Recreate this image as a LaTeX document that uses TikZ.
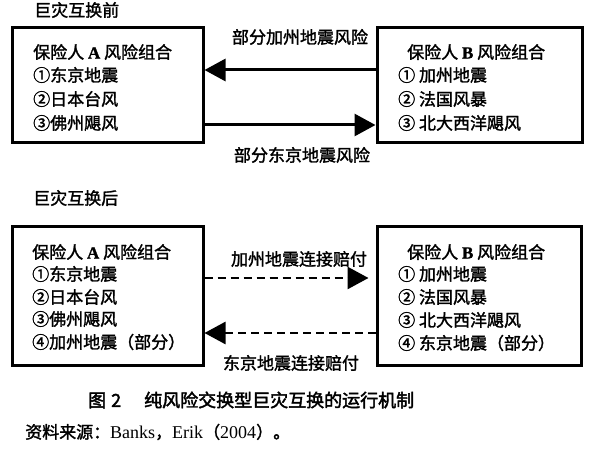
\documentclass[tikz,border=0pt]{standalone}
\usepackage{fontspec}
\newfontfamily\cjk[FakeBold=1.6]{Noto Sans CJK SC}
\newfontfamily\cjkh[FakeBold=2.2]{Noto Sans CJK SC}
\newfontfamily\lat[FakeBold=1.2]{Liberation Serif}
\newfontfamily\latr{Liberation Serif}
\usetikzlibrary{arrows.meta}
\begin{document}
\begin{tikzpicture}[x=1pt,y=-1pt,
  frame/.style={draw, line width=3pt, inner sep=0pt},
  txt/.style={anchor=west, inner sep=0pt, font=\cjk\fontsize{17}{20}\selectfont},
  lab/.style={anchor=center, inner sep=0pt, font=\cjk\fontsize{17}{20}\selectfont},
  solidarrow/.style={line width=3pt, -{Triangle[length=21pt,width=22pt]}},
  dasharrow/.style={line width=2.6pt, dash pattern=on 8pt off 5pt, -{Triangle[length=21pt,width=22pt]}}
]
\useasboundingbox (0,0) rectangle (592,449);
\fill[white] (0,0) rectangle (592,449);

% section titles
\node[txt] (t1) at (34,10) {巨灾互换前};
\node[txt] (t2) at (33,198) {巨灾互换后};

% boxes before
\node[frame, minimum width=191pt, minimum height=115pt] (A) at (107.5,85.5) {};
\node[frame, minimum width=205pt, minimum height=115pt] (B) at (479.5,85.5) {};

\node[txt] (a0) at (33,52) {保险人 {\lat\bfseries A} 风险组合};
\node[txt] (a1) at (33,75) {①东京地震};
\node[txt] (a2) at (33,99) {②日本台风};
\node[txt] (a3) at (33,123) {③佛州飓风};

\node[txt] (b0) at (407,52) {保险人 {\lat\bfseries B} 风险组合};
\node[txt] (b1) at (398,75) {① 加州地震};
\node[txt] (b2) at (398,99) {② 法国风暴};
\node[txt] (b3) at (398,123) {③ 北大西洋飓风};

\coordinate (y1) at (0,70);
\coordinate (y2) at (0,125);
\draw[solidarrow] (B.west |- y1) -- (A.east |- y1);
\draw[solidarrow] (A.east |- y2) -- (B.west |- y2);
\node[lab] (l1) at (300,37) {部分加州地震风险};
\node[lab] (l2) at (302,155) {部分东京地震风险};

% boxes after
\node[frame, minimum width=191pt, minimum height=138pt] (A2) at (107.5,296) {};
\node[frame, minimum width=204pt, minimum height=138pt] (B2) at (479,296) {};

\node[txt] (c0) at (32,252) {保险人 {\lat\bfseries A} 风险组合};
\node[txt] (c1) at (32,274) {①东京地震};
\node[txt] (c2) at (32,297) {②日本台风};
\node[txt] (c3) at (32,319) {③佛州飓风};
\node[txt] (c4) at (32,342) {④加州地震（部分）};

\node[txt] (d0) at (407,252) {保险人 {\lat\bfseries B} 风险组合};
\node[txt] (d1) at (398,274) {① 加州地震};
\node[txt] (d2) at (398,297) {② 法国风暴};
\node[txt] (d3) at (398,320) {③ 北大西洋飓风};
\node[txt] (d4) at (398,343) {④ 东京地震（部分）};

\coordinate (y3) at (0,278);
\coordinate (y4) at (0,333);
\draw[dasharrow, shorten >=7pt] (A2.east |- y3) -- (B2.west |- y3);
\draw[dasharrow] (B2.west |- y4) -- (A2.east |- y4);
\node[lab] (l3) at (299,259) {加州地震连接赔付};
\node[lab] (l4) at (291,363) {东京地震连接赔付};

% caption and source
\node[anchor=west, inner sep=0pt, font=\cjkh\fontsize{18}{20}\selectfont] (cap) at (88,400) {图\hspace{5pt}2\hspace{23pt}纯风险交换型巨灾互换的运行机制};
\node[txt] (src) at (25,432) {资料来源：{\latr\fontsize{18}{20}\selectfont Banks}，{\latr\fontsize{18}{20}\selectfont Erik}（{\latr\fontsize{18}{20}\selectfont 2004}）。};
\end{tikzpicture}
\end{document}
